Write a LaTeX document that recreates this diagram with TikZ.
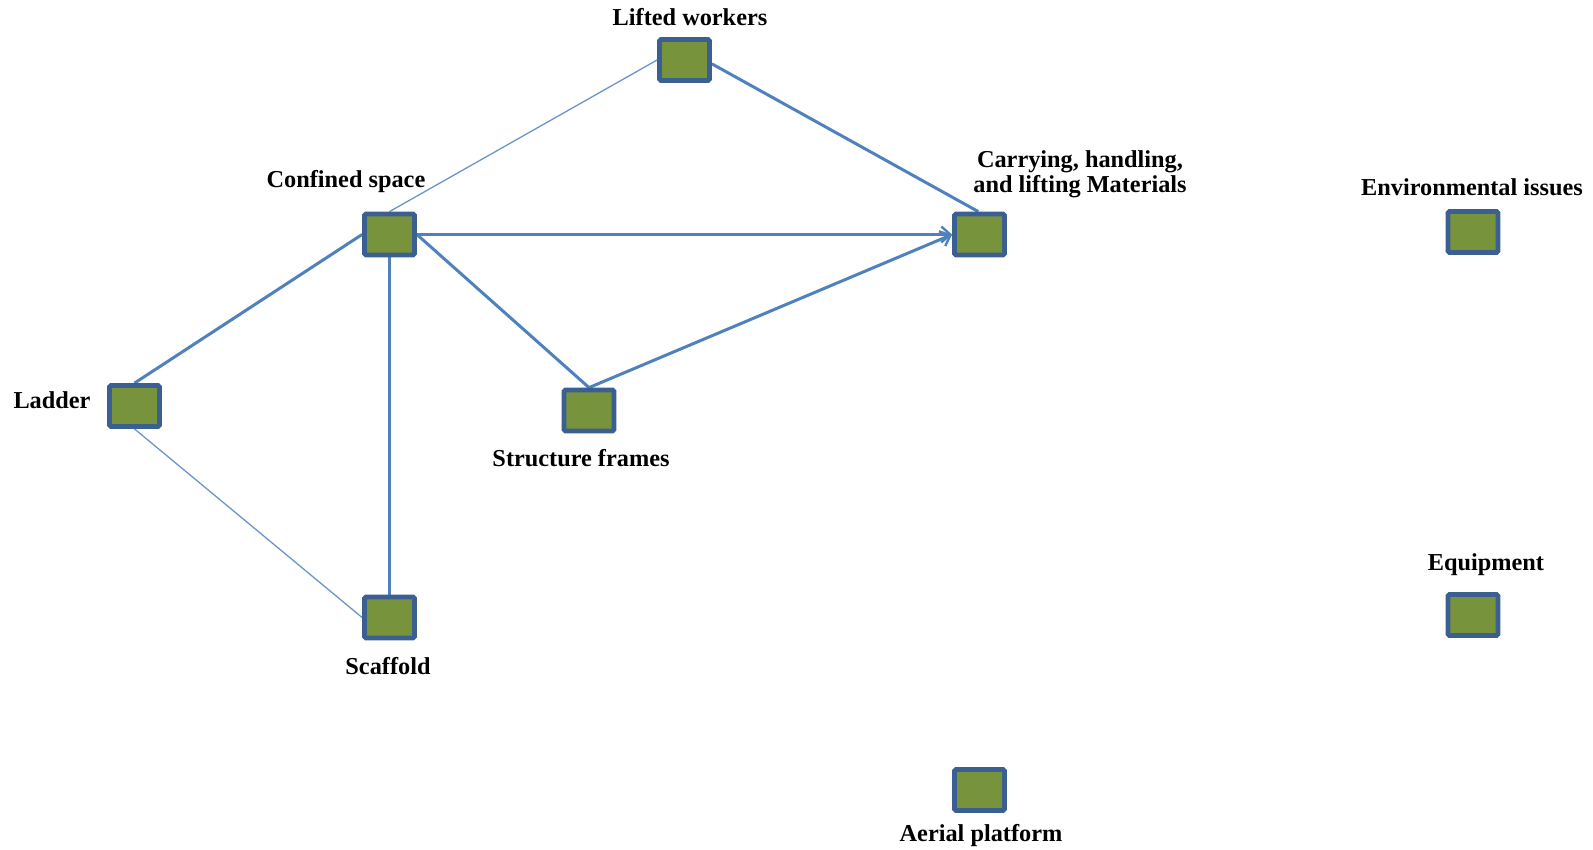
\documentclass[tikz,border=0pt]{standalone}
\usepackage{fontspec}
\setmainfont{Liberation Serif}
\usetikzlibrary{arrows.meta,backgrounds}
\definecolor{boxfill}{HTML}{77933C}
\definecolor{boxline}{HTML}{3C5F92}
\definecolor{linkblue}{HTML}{4F81BD}
\definecolor{thinblue}{HTML}{6A95CA}
\tikzset{
  sq/.style={draw=boxline, fill=boxfill, line width=4.8pt, rounded corners=1.5pt,
             minimum width=50pt, minimum height=41pt, inner sep=0pt},
  lbl/.style={font=\fontsize{24.3}{25}\selectfont\bfseries, inner sep=0pt, anchor=base, text=black},
  strong/.style={draw=linkblue, line width=3pt},
  weak/.style={draw=thinblue, line width=1.3pt},
  arr/.style={-{Straight Barb[length=9pt,width=16pt,line width=2.4pt]}}
}
\begin{document}
\begin{tikzpicture}[x=1pt,y=-1pt]
\useasboundingbox (0,0) rectangle (1593,849);
% boxes
\node[sq] (lw) at (684.5,60) {};
\node[sq] (cs) at (389.5,234.5) {};
\node[sq] (cm) at (979.5,234.5) {};
\node[sq] (env) at (1473,232) {};
\node[sq] (ld) at (134.5,406) {};
\node[sq] (sf) at (589,410.5) {};
\node[sq] (sc) at (389.5,617.5) {};
\node[sq] (eq) at (1473,615) {};
\node[sq] (ap) at (979.5,790) {};
% labels
\node[lbl] (tlw) at (690,25) {Lifted workers};
\node[lbl] (tcs) at (346,187) {Confined space};
\node[lbl] (tcm1) at (1080,167) {Carrying, handling,};
\node[lbl] (tcm2) at (1080,192) {and lifting Materials};
\node[lbl] (tenv) at (1472,195) {Environmental issues};
\node[lbl] (tld) at (52,408) {Ladder};
\node[lbl] (tsf) at (581,466) {Structure frames};
\node[lbl] (tsc) at (388,674) {Scaffold};
\node[lbl] (teq) at (1486,570) {Equipment};
\node[lbl] (tap) at (981,841) {Aerial platform};
% connectors
\begin{scope}[on background layer]
\draw[weak] (cs.north) -- (lw.west);
\draw[strong] (lw.-8) -- (cm.93);
\draw[strong,arr] (cs.east) -- (cm.west);
\draw[strong,arr] (sf.north) -- (cm.west);
\draw[strong] (cs.east) -- (sf.north);
\draw[strong] (cs.south) -- (sc.north);
\draw[strong] (cs.west) -- (ld.north);
\draw[weak] (ld.south) -- (sc.west);
\end{scope}
\end{tikzpicture}
\end{document}
